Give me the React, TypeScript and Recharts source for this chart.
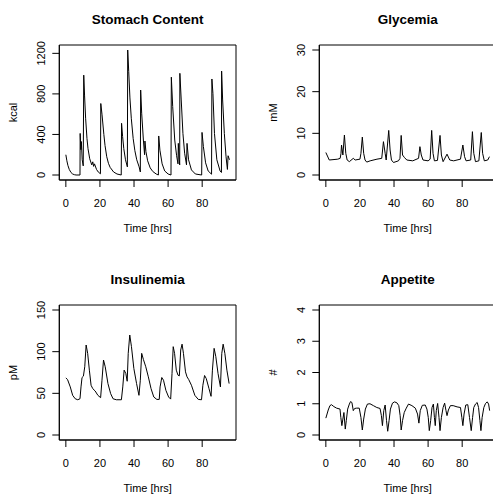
import { Line, LineChart, ReferenceArea, XAxis, YAxis } from "recharts";

const timeTicks = [0, 20, 40, 60, 80];

const stomachTime = [
  0, 0.6, 1.2, 2, 3, 4, 5, 6, 8.3, 8.4, 8.8, 9.1, 9.6, 10.2, 10.5, 11, 11.6,
  12.4, 13, 14, 15.2, 15.8, 16.3, 16.8, 18, 19, 20.3, 20.5, 21.2, 22.3, 23, 24,
  25, 26, 28, 30, 32.5, 32.7, 33.3, 34, 35, 36.1, 36.3, 36.9, 37.6, 38.4, 39.5,
  40.5, 41.6, 43, 43.7, 43.9, 44.5, 45.5, 46.2, 46.4, 47, 48, 49.5, 51, 53,
  54.3, 54.5, 55.2, 56.5, 58, 60, 61.7, 61.9, 62.7, 63.9, 65, 65.8, 66, 66.5,
  66.8, 66.9, 67.7, 68.7, 69.7, 70.8, 71.1, 72, 73.7, 76, 79.7, 79.9, 80.7, 82,
  83.5, 85.5, 85.7, 86.3, 87.2, 88.6, 90.5, 91.3, 91.4, 92, 93, 94, 94.8, 95.2,
  96,
];
const stomachKcal = [
  200, 140, 95, 55, 25, 10, 3, 0, 0, 410, 250, 330, 150, 90, 985, 780, 560, 360,
  260, 160, 100, 130, 85, 110, 55, 30, 12, 705, 600, 400, 290, 180, 115, 75, 30,
  10, 0, 510, 380, 260, 150, 80, 1233, 1020, 760, 560, 360, 240, 150, 80, 30,
  838, 610, 345, 200, 335, 230, 140, 70, 35, 10, 0, 385, 245, 110, 40, 10, 0,
  965, 675, 345, 190, 110, 312, 150, 100, 1003, 740, 410, 215, 100, 312, 150,
  50, 10, 0, 420, 280, 120, 40, 8, 947, 805, 410, 150, 40, 25, 1025, 740, 410,
  180, 55, 190, 150,
];

const glyTime = [
  0, 2, 7, 8.4, 8.9, 9.2, 10, 10.9, 11.7, 12.5, 13.8, 16.1, 17.2, 20, 20.6,
  21.4, 22.2, 23, 24, 26, 30, 32.8, 33.8, 34.8, 35.4, 36.9, 37.7, 38.5, 39.7,
  42.6, 43.5, 44.2, 45, 46, 47.5, 51, 54.4, 55.2, 56, 57, 60, 61.2, 62.1, 62.9,
  63.7, 65.5, 67, 67.8, 68.8, 71.1, 72.7, 75, 79, 80.4, 81.4, 82.3, 85, 86,
  86.8, 87.8, 89.8, 91.2, 92, 93, 95, 96,
];
const glyMM = [
  5.4, 3.6, 3.8, 4.0, 5.2, 7.2, 4.8, 9.6, 5.2, 3.6, 3.2, 4.0, 3.6, 3.8, 5.2,
  9.1, 5.2, 3.6, 3.1, 3.4, 3.8, 4.0, 8.0, 5.2, 3.6, 10.7, 6.0, 3.6, 3.0, 3.4,
  4.0, 9.5, 4.8, 4.25, 3.6, 3.4, 4.0, 6.8, 4.8, 3.6, 3.4, 3.8, 10.7, 5.2, 3.4,
  3.5, 9.5, 4.8, 3.2, 5.0, 3.6, 3.4, 3.8, 7.2, 4.4, 3.4, 3.6, 10.4, 5.2, 3.2,
  3.4, 10.2, 5.2, 3.4, 3.6, 4.4,
];

const insTime = [
  0, 1, 2.6, 4, 5.5, 7, 8.3, 8.9, 9.5, 10.3, 11.1, 11.9, 12.8, 13.8, 14.8, 15.8,
  17.2, 18.8, 20.4, 21.2, 22.1, 23.1, 24.7, 26.3, 27.7, 29.6, 32.6, 33.4, 34.2,
  35.2, 36, 36.6, 37.5, 38.5, 39.9, 41.5, 42.9, 43.7, 44.5, 45.5, 46.9, 48.4,
  50, 51.6, 53.4, 54.8, 55.3, 56.3, 57.3, 58.7, 60.3, 61.5, 62.3, 63, 63.8,
  64.8, 65.8, 66.6, 67.4, 68.2, 69, 70.2, 71.1, 72.1, 73.7, 75.7, 77.7, 79.6,
  80.4, 81.4, 82.4, 84, 85.2, 86, 87, 88, 89.3, 90.7, 91.5, 92.3, 93.3, 94.5,
  95.8,
];
const insPM = [
  68.5, 66.5, 57.7, 47.6, 43.5, 42.3, 43.5, 57.7, 69, 70.6, 81.9, 108, 98,
  77.8, 59.7, 55.6, 52.8, 47.6, 44.8, 65.7, 90, 81.9, 61.7, 49.6, 43.5, 42.3,
  42.3, 57.7, 77.8, 73.8, 64.5, 98, 120, 106, 79.8, 61.7, 47.6, 65.7, 98, 90.7,
  81.9, 69.8, 55.6, 45.6, 42.7, 42.7, 57.7, 69, 65.7, 53.6, 45.6, 43.1, 73.8,
  106, 98, 77.8, 71.8, 71, 102, 109, 98, 75.8, 69.8, 66.5, 59.7, 47.6, 42.7,
  42.3, 59.7, 71.4, 67.7, 55.6, 46.4, 77.8, 104, 94, 73.8, 57.7, 98, 109, 98,
  77.8, 61.7,
];

const appTime = [
  0, 1.4, 2.4, 3.3, 4.7, 6.3, 8.3, 8.8, 9.4, 10, 10.6, 11.4, 12, 12.8, 13.8,
  14.5, 15.3, 16.1, 16.9, 18.1, 19.6, 20.6, 21.4, 22.2, 23.2, 24.4, 25.9, 27.9,
  29.9, 31.8, 32.6, 33.2, 34, 34.8, 35.6, 36.3, 37.1, 37.9, 39.1, 40.3, 41.7,
  42.8, 43.6, 44.2, 45, 46, 47.2, 48.5, 50.5, 52.5, 53.8, 54.6, 55.4, 56.6,
  58.3, 59.3, 60.1, 60.7, 61.5, 62.3, 63.1, 63.7, 64.2, 64.8, 65.6, 66.4, 67,
  67.8, 68.8, 69.7, 70.5, 71.1, 71.9, 73.1, 74.7, 77, 79, 79.8, 80.4, 81.1,
  82.1, 83.3, 84.3, 85.3, 86.1, 86.8, 87.8, 88.8, 89.6, 90.4, 91, 91.7, 92.7,
  93.7, 94.7, 95.5, 96.1,
];
const appScore = [
  0.54, 0.8, 0.94, 0.97, 0.91, 0.86, 0.83, 0.56, 0.3, 0.51, 0.72, 0.19, 0.46,
  0.83, 0.99, 1.07, 1.04, 0.78, 0.85, 0.86, 0.86, 0.56, 0.16, 0.51, 0.83, 0.99,
  1.0, 0.94, 0.88, 0.85, 0.62, 0.3, 0.78, 0.96, 0.46, 0.12, 0.46, 0.83, 1.02,
  1.06, 1.03, 0.94, 0.62, 0.16, 0.46, 0.72, 0.86, 0.99, 0.94, 0.86, 0.67, 0.38,
  0.78, 0.95, 0.96, 0.83, 0.56, 0.14, 0.46, 0.88, 0.99, 0.56, 0.3, 0.78, 1.01,
  0.56, 0.14, 0.56, 0.88, 1.02, 0.78, 0.62, 0.8, 0.94, 0.94, 0.9, 0.88, 0.56,
  0.3, 0.67, 0.96, 0.97, 0.56, 0.14, 0.56, 0.88, 0.99, 1.04, 0.88, 0.46, 0.14,
  0.56, 0.88, 1.01, 1.06, 0.99, 0.78,
];

const FONT = "'Liberation Sans', Arial, sans-serif";
const CELL = 259.5;

// R style axis range: 4% padding on each side
const pad = (lo: number, hi: number): [number, number] => {
  const d = (hi - lo) * 0.04;
  return [lo - d, hi + d];
};

const xDomain = pad(0, 96);

type PanelProps = {
  title: string;
  yLabel: string;
  times: number[];
  values: number[];
  yLim: [number, number];
  yTicks: number[];
  yLabelled: number[];
  col: number;
  row: number;
};

function Panel({ title, yLabel, times, values, yLim, yTicks, yLabelled, col, row }: PanelProps) {
  const data = times.map((t, i) => ({ t, v: values[i] }));
  const yDomain = pad(yLim[0], yLim[1]);

  const xTick = (p: any) => (
    <text x={p.x} y={p.y + 19.5} textAnchor="middle" fontSize={11} fontFamily={FONT} fill="#000">
      {p.payload.value}
    </text>
  );

  const yTick = (p: any) => {
    if (!yLabelled.includes(p.payload.value)) return <g />;
    const x = p.x - 7.5;
    return (
      <text
        x={x}
        y={p.y}
        transform={`rotate(-90, ${x}, ${p.y})`}
        textAnchor="middle"
        fontSize={11}
        fontFamily={FONT}
        fill="#000"
      >
        {p.payload.value}
      </text>
    );
  };

  // x label below the axis, title above the box (box top is the chart's top margin)
  const xLabel = (p: any) => {
    const vb = p.viewBox;
    const cx = vb.x + vb.width / 2;
    return (
      <g>
        <text x={cx} y={vb.y + 51.5} textAnchor="middle" fontSize={11} fontFamily={FONT} fill="#000">
          Time [hrs]
        </text>
        <text x={cx} y={23.5} textAnchor="middle" fontSize={13.5} fontWeight="bold" fontFamily={FONT} fill="#000">
          {title}
        </text>
      </g>
    );
  };

  const yAxisLabel = (p: any) => {
    const vb = p.viewBox;
    const x = 17.3;
    const y = vb.y + vb.height / 2;
    return (
      <text x={x} y={y} transform={`rotate(-90, ${x}, ${y})`} textAnchor="middle" fontSize={11} fontFamily={FONT} fill="#000">
        {yLabel}
      </text>
    );
  };

  return (
    <div style={{ position: "absolute", left: col * CELL, top: row * CELL }}>
      <LineChart width={260} height={260} data={data} margin={{ top: 45, right: 24, bottom: 0, left: 0 }}>
        <XAxis
          dataKey="t"
          type="number"
          domain={xDomain}
          ticks={timeTicks}
          allowDataOverflow
          height={80}
          tickSize={7}
          tickMargin={0}
          stroke="#000"
          tick={xTick}
          label={xLabel}
        />
        <YAxis
          type="number"
          domain={yDomain}
          ticks={yTicks}
          allowDataOverflow
          width={59.3}
          tickSize={7}
          tickMargin={0}
          stroke="#000"
          tick={yTick}
          label={yAxisLabel}
        />
        <ReferenceArea
          x1={xDomain[0]}
          x2={xDomain[1]}
          y1={yDomain[0]}
          y2={yDomain[1]}
          fill="none"
          stroke="#000"
          strokeWidth={1}
          ifOverflow="visible"
        />
        <Line
          type="linear"
          dataKey="v"
          stroke="#000"
          strokeWidth={1}
          dot={false}
          isAnimationActive={false}
        />
      </LineChart>
    </div>
  );
}

export default function App() {
  return (
    <div style={{ position: "absolute", left: 0, top: 0, width: 493, height: 495, overflow: "hidden", background: "#fff" }}>
      <Panel
        title="Stomach Content"
        yLabel="kcal"
        times={stomachTime}
        values={stomachKcal}
        yLim={[0, Math.max(...stomachKcal)]}
        yTicks={[0, 200, 400, 600, 800, 1000, 1200]}
        yLabelled={[0, 400, 800, 1200]}
        col={0}
        row={0}
      />
      <Panel
        title="Glycemia"
        yLabel="mM"
        times={glyTime}
        values={glyMM}
        yLim={[0, 30]}
        yTicks={[0, 5, 10, 15, 20, 25, 30]}
        yLabelled={[0, 10, 20, 30]}
        col={1}
        row={0}
      />
      <Panel
        title="Insulinemia"
        yLabel="pM"
        times={insTime}
        values={insPM}
        yLim={[0, 150]}
        yTicks={[0, 50, 100, 150]}
        yLabelled={[0, 50, 100, 150]}
        col={0}
        row={1}
      />
      <Panel
        title="Appetite"
        yLabel="#"
        times={appTime}
        values={appScore}
        yLim={[0, 4]}
        yTicks={[0, 1, 2, 3, 4]}
        yLabelled={[0, 1, 2, 3, 4]}
        col={1}
        row={1}
      />
    </div>
  );
}
